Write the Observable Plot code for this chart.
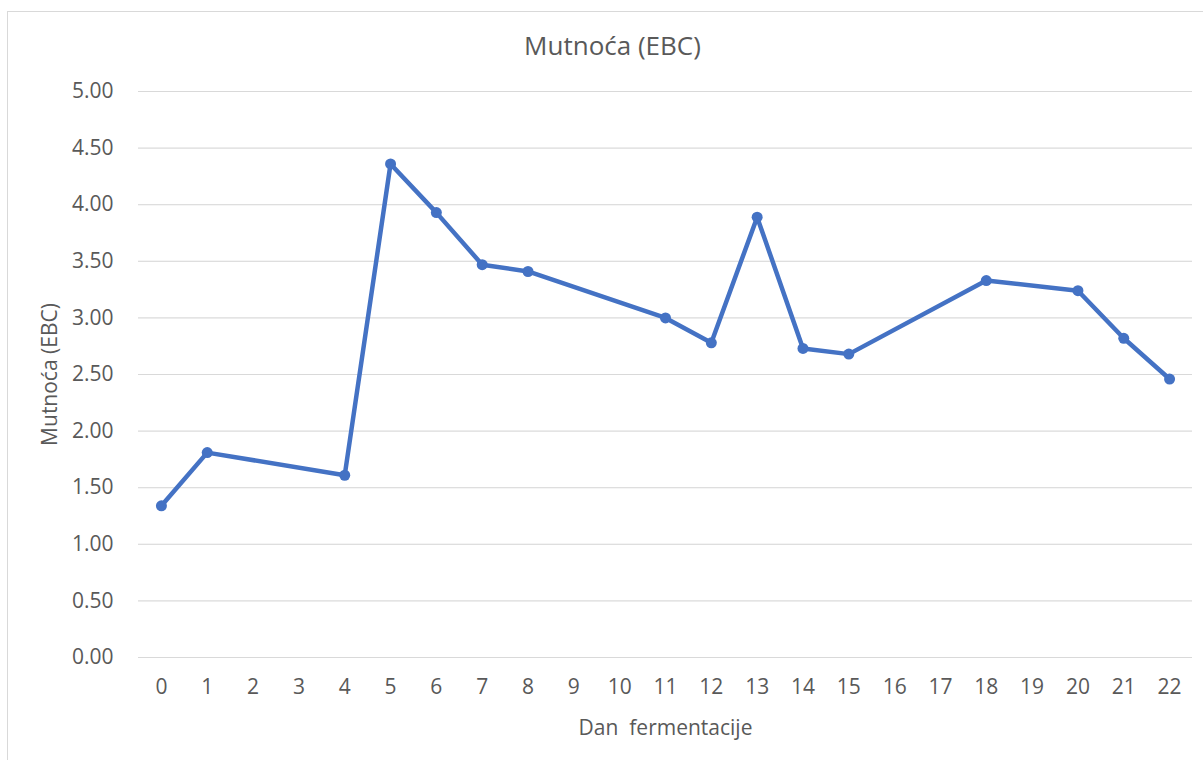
<!DOCTYPE html>
<html>
<head>
<meta charset="utf-8">
<script src="https://cdn.jsdelivr.net/npm/d3@7"></script>
<script src="https://cdn.jsdelivr.net/npm/@observablehq/plot@0.6"></script>
<style>
  html, body { margin: 0; padding: 0; background: #fff; overflow: hidden; }
  #wrap { position: relative; width: 1203px; height: 760px; }
  #border { position: absolute; left: 7px; top: 11px; width: 1210px; height: 770px; border: 1px solid #d9d9d9; box-sizing: border-box; }
  #title { position: absolute; left: 0; width: 1225px; top: 27px; text-align: center; font-family: "Open Sans", sans-serif; font-size: 26px; color: #595959; }
  #chart { position: absolute; left: 0; top: 0; }
</style>
</head>
<body>
<div id="wrap">
  <div id="border"></div>
  <div id="chart"></div>
  <div id="title">Mutnoća (EBC)</div>
</div>
<script>
const days = [0, 1, 4, 5, 6, 7, 8, 11, 12, 13, 14, 15, 18, 20, 21, 22];
const turbidity = [1.34, 1.81, 1.61, 4.36, 3.93, 3.47, 3.41, 3.00, 2.78, 3.89, 2.73, 2.68, 3.33, 3.24, 2.82, 2.46];
const xTicks = d3.range(0, 23);
const yTicks = [0, 0.5, 1, 1.5, 2, 2.5, 3, 3.5, 4, 4.5, 5];
const xLabel = "Dan  fermentacije";
const yLabel = "Mutnoća (EBC)";

const data = days.map((d, i) => ({day: d, value: turbidity[i]}));
const blue = "#4472C4";

const chart = Plot.plot({
  width: 1203,
  height: 760,
  marginLeft: 138,
  marginRight: 11,
  marginTop: 91,
  marginBottom: 103,
  style: {fontFamily: "'Open Sans', sans-serif", fontSize: "21px", color: "#595959", background: "transparent"},
  x: {domain: [-0.5, 22.5], ticks: xTicks, tickFormat: d => String(d), tickSize: 0, tickPadding: 22, label: xLabel, labelAnchor: "center", labelOffset: 77, labelArrow: "none"},
  y: {domain: [0, 5], ticks: yTicks, tickFormat: d => d.toFixed(2), tickSize: 0, tickPadding: 25, label: yLabel, labelAnchor: "center", labelOffset: 96, labelArrow: "none", grid: true},
  marks: [
    Plot.gridY(yTicks, {stroke: "#d9d9d9", strokeOpacity: 1, strokeWidth: 1}),
    Plot.line(data, {x: "day", y: "value", stroke: blue, strokeWidth: 4.5, strokeLinejoin: "round", strokeLinecap: "round"}),
    Plot.dot(data, {x: "day", y: "value", r: 5.5, fill: blue, stroke: "none"})
  ]
});
document.getElementById("chart").appendChild(chart);
</script>
</body>
</html>
